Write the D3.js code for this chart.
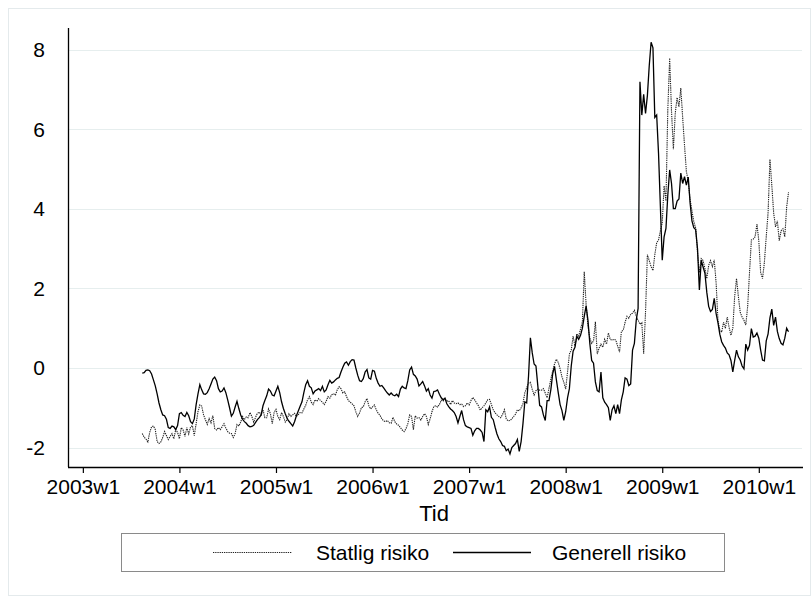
<!DOCTYPE html>
<html>
<head>
<meta charset="utf-8">
<script src="https://cdn.jsdelivr.net/npm/d3@7"></script>
<style>
  html, body { margin: 0; padding: 0; background: #fff; }
  svg text { font-family: "Liberation Sans", Arial, sans-serif; fill: #000; }
</style>
</head>
<body>
<svg id="chart" width="811" height="596"></svg>
<script>
// Weekly series, first observation 2003w33, one value per week through 2010w17
const firstYear = 2003;
const firstWeek = 33;

const statlig = [
  -1.65,-1.74,-1.79,-1.86,-1.62,-1.48,-1.46,-1.55,-1.85,-1.90,
  -1.86,-1.75,-1.60,-1.70,-1.80,-1.72,-1.65,-1.78,-1.55,-1.62,
  -1.78,-1.50,-1.56,-1.72,-1.50,-1.66,-1.48,-1.45,-1.70,-1.40,
  -1.10,-0.93,-0.96,-1.18,-1.30,-1.42,-1.27,-1.38,-1.20,-1.52,
  -1.56,-1.50,-1.55,-1.48,-1.40,-1.51,-1.60,-1.64,-1.65,-1.75,
  -1.65,-1.42,-1.46,-1.36,-1.22,-1.30,-1.23,-1.25,-1.12,-1.22,
  -1.36,-1.24,-1.14,-1.11,-1.18,-1.05,-1.25,-1.25,-1.03,-1.15,
  -1.40,-1.12,-1.04,-1.22,-1.30,-1.12,-1.22,-1.36,-1.30,-1.15,
  -1.22,-1.18,-1.14,-1.22,-1.17,-1.12,-1.13,-1.03,-0.94,-0.80,
  -0.72,-0.86,-0.92,-0.80,-0.84,-0.77,-0.82,-0.86,-0.92,-0.84,
  -0.72,-0.76,-0.67,-0.65,-0.68,-0.55,-0.47,-0.52,-0.63,-0.60,
  -0.72,-0.82,-0.86,-0.90,-0.95,-1.10,-1.22,-1.13,-1.00,-0.98,
  -0.85,-0.77,-0.95,-1.03,-0.98,-0.93,-1.05,-1.14,-1.19,-1.28,
  -1.33,-1.35,-1.32,-1.38,-1.39,-1.24,-1.35,-1.41,-1.44,-1.50,
  -1.56,-1.60,-1.53,-1.40,-1.18,-1.22,-1.55,-1.20,-1.26,-1.25,
  -1.31,-1.22,-1.15,-1.22,-1.42,-1.28,-1.10,-0.97,-0.95,-0.98,
  -0.92,-0.81,-0.83,-0.77,-0.84,-0.82,-0.92,-0.82,-0.88,-0.90,
  -0.88,-0.92,-0.91,-0.97,-0.95,-0.88,-0.93,-0.82,-0.74,-0.80,
  -0.88,-0.95,-1.06,-1.00,-0.95,-0.88,-0.80,-0.79,-0.92,-1.05,
  -1.13,-1.18,-1.22,-1.25,-1.17,-1.05,-1.28,-1.33,-1.32,-1.28,
  -1.22,-1.16,-1.05,-1.08,-1.00,-0.90,-0.62,-0.50,-0.38,-0.36,
  -0.54,-0.68,-0.57,-0.53,-0.56,-0.56,-0.52,-0.63,-0.75,-0.52,
  -0.28,-0.08,0.10,0.22,0.14,-0.02,-0.22,-0.36,-0.53,-0.10,
  0.35,0.45,0.80,0.55,0.86,0.80,0.98,1.16,2.42,1.60,
  1.05,0.75,0.62,0.68,1.16,0.35,0.50,0.60,0.52,0.72,
  0.60,0.88,0.72,0.70,0.72,0.70,0.55,0.40,0.92,0.95,
  1.15,1.30,1.25,1.35,1.38,1.45,1.30,1.20,1.10,1.14,
  0.36,1.40,2.85,2.70,2.55,2.45,2.85,3.15,3.22,3.45,
  3.65,4.58,4.20,6.50,7.79,6.45,5.50,6.40,6.80,6.57,
  7.04,6.30,5.60,4.94,4.70,4.25,3.95,3.68,3.52,2.90,
  2.40,2.75,2.70,2.50,2.25,2.58,2.70,2.55,2.72,2.15,
  1.20,0.95,0.90,1.15,1.00,1.28,1.02,0.82,1.00,1.80,
  2.25,1.80,1.40,1.28,1.20,1.08,1.55,2.40,3.22,3.24,
  3.30,3.62,3.20,2.40,2.25,2.65,3.30,3.90,5.25,4.60,
  3.90,3.55,3.70,3.20,3.45,3.50,3.30,4.05,4.42
];

const generell = [
  -0.13,-0.12,-0.06,-0.05,-0.07,-0.15,-0.30,-0.45,-0.65,-0.88,
  -1.05,-1.18,-1.20,-1.29,-1.50,-1.52,-1.46,-1.48,-1.55,-1.45,
  -1.15,-1.12,-1.19,-1.22,-1.12,-1.20,-1.35,-1.40,-1.28,-0.92,
  -0.65,-0.42,-0.55,-0.65,-0.66,-0.62,-0.52,-0.40,-0.28,-0.23,
  -0.32,-0.52,-0.60,-0.58,-0.50,-0.62,-0.80,-1.00,-1.21,-1.14,
  -0.98,-0.84,-1.02,-1.18,-1.29,-1.35,-1.39,-1.45,-1.48,-1.47,
  -1.44,-1.37,-1.30,-1.25,-1.18,-0.95,-0.82,-0.70,-0.53,-0.58,
  -0.68,-0.70,-0.58,-0.46,-0.62,-0.85,-1.02,-1.15,-1.27,-1.34,
  -1.40,-1.46,-1.35,-1.20,-1.08,-0.96,-0.85,-0.62,-0.42,-0.32,
  -0.46,-0.50,-0.65,-0.58,-0.55,-0.52,-0.57,-0.46,-0.60,-0.55,
  -0.42,-0.31,-0.38,-0.35,-0.30,-0.26,-0.24,-0.10,0.02,0.12,
  0.15,0.07,0.16,0.21,0.20,0.00,-0.18,-0.32,-0.34,-0.27,
  -0.10,-0.04,-0.25,-0.28,-0.06,-0.08,-0.26,-0.38,-0.46,-0.44,
  -0.50,-0.57,-0.63,-0.68,-0.63,-0.68,-0.70,-0.66,-0.72,-0.53,
  -0.46,-0.50,-0.52,-0.32,-0.05,0.02,-0.16,-0.20,-0.28,-0.45,
  -0.40,-0.34,-0.45,-0.58,-0.52,-0.68,-0.76,-0.59,-0.58,-0.55,
  -0.66,-0.75,-0.80,-0.76,-0.90,-0.97,-1.03,-1.07,-1.12,-1.22,
  -1.38,-1.22,-1.07,-1.30,-1.45,-1.48,-1.50,-1.52,-1.69,-1.58,
  -1.52,-1.52,-1.56,-1.62,-1.85,-1.05,-1.10,-0.98,-1.24,-1.30,
  -1.49,-1.66,-1.78,-1.85,-1.95,-1.97,-2.08,-2.04,-2.16,-2.00,
  -1.95,-1.90,-1.80,-2.10,-1.85,-1.40,-0.85,-0.88,-0.20,0.76,
  0.38,0.10,0.05,-0.45,-0.94,-0.98,-1.18,-1.32,-0.82,-0.82,
  -0.55,-0.15,0.04,-0.30,-0.62,-0.92,-1.07,-1.32,-1.10,-0.75,
  -0.52,0.05,0.42,0.52,0.80,0.72,0.82,1.00,1.30,1.56,
  1.20,0.62,0.19,0.12,-0.35,-0.57,-0.60,-0.10,-0.75,-0.86,
  -0.92,-1.00,-1.32,-1.05,-0.95,-1.15,-0.92,-1.15,-0.80,-0.60,
  -0.25,-0.28,-0.44,-0.40,0.45,0.62,1.20,1.50,7.20,6.36,
  6.88,6.40,6.85,7.60,8.19,8.05,6.30,6.36,5.40,4.06,
  2.71,3.30,3.51,4.35,4.98,4.64,4.01,4.01,4.20,4.25,
  4.90,4.64,4.81,4.60,4.80,4.15,3.70,3.53,3.48,3.00,
  1.96,2.71,2.54,2.38,1.90,1.55,1.42,1.47,1.75,1.37,
  1.14,0.85,0.66,0.57,0.50,0.38,0.33,0.19,-0.10,0.19,
  0.45,0.28,0.20,0.05,-0.02,0.60,0.45,0.57,0.99,0.78,
  0.80,0.88,0.75,0.45,0.20,0.18,0.68,0.86,1.26,1.48,
  1.07,1.28,0.92,0.74,0.62,0.58,0.75,1.00,0.91
];

const xTickLabels = ["2003w1","2004w1","2005w1","2006w1","2007w1","2008w1","2009w1","2010w1"];
const yTicks = [-2, 0, 2, 4, 6, 8];
const seriesNames = ["Statlig risiko", "Generell risiko"];
const xTitle = "Tid";

// Stata-style weekly index: 52 weeks per year
const weekIndex = (y, w) => y * 52 + (w - 1);
const parseWeek = s => { const [y, w] = s.split("w").map(Number); return weekIndex(y, w); };
const fmtWeek = t => `${Math.floor(t / 52)}w${(t % 52) + 1}`;
const start = weekIndex(firstYear, firstWeek);
const weeks = statlig.map((_, i) => start + i);

const svg = d3.select("#chart");
const W = 811, H = 596;
const plot = { left: 68, right: 803, top: 28, bottom: 467 };
const FONT = "Liberation Sans, Arial, sans-serif";
const DOT = "1.3,0.9";

svg.append("rect").attr("x", 0).attr("y", 0).attr("width", W).attr("height", H).attr("fill", "#fff");
svg.append("rect").attr("x", 8.5).attr("y", 8.5).attr("width", W - 9).attr("height", H - 9)
  .attr("fill", "none").attr("stroke", "#e4eaec").attr("stroke-width", 1);

const x = d3.scaleLinear()
  .domain([parseWeek("2003w1") - 8, parseWeek("2010w1") + 23.8])
  .range([plot.left, plot.right]);
const y = d3.scaleLinear()
  .domain([-2.49, 8.55])
  .range([plot.bottom, plot.top]);

// horizontal grid
svg.append("g").selectAll("line").data(yTicks).join("line")
  .attr("x1", plot.left + 1).attr("x2", plot.right - 1)
  .attr("y1", d => Math.round(y(d)) + 0.5).attr("y2", d => Math.round(y(d)) + 0.5)
  .attr("stroke", "#e6eeee").attr("stroke-width", 1.2);

// axes
const xAxis = d3.axisBottom(x)
  .tickValues(xTickLabels.map(parseWeek))
  .tickFormat(fmtWeek)
  .tickSize(6).tickPadding(6);
const gx = svg.append("g").attr("transform", `translate(0,${plot.bottom})`).call(xAxis);
gx.select(".domain").attr("d", `M${plot.left},0.5H${plot.right}`).attr("stroke", "#000").attr("stroke-width", 1.3);
gx.selectAll(".tick line").attr("stroke", "#000").attr("stroke-width", 1.2);
gx.selectAll(".tick text").attr("font-size", 21).attr("font-family", FONT).attr("fill", "#000");

const yAxis = d3.axisLeft(y).tickValues(yTicks).tickFormat(d => String(d)).tickSize(0).tickPadding(23);
const gy = svg.append("g").attr("transform", `translate(${plot.left},0)`).call(yAxis);
gy.select(".domain").attr("d", `M0.5,${plot.top}V${plot.bottom}`).attr("stroke", "#000").attr("stroke-width", 1.3);
gy.selectAll(".tick text").attr("font-size", 21).attr("font-family", FONT).attr("fill", "#000");

// axis title
svg.append("text").attr("x", 434).attr("y", 521).attr("text-anchor", "middle")
  .attr("font-size", 22).text(xTitle);

// series lines
const line = vals => d3.line().x((d, i) => x(weeks[i])).y(d => y(d))(vals);
svg.append("path").attr("d", line(statlig)).attr("fill", "none")
  .attr("stroke", "#222").attr("stroke-width", 1.1).attr("stroke-dasharray", DOT);
svg.append("path").attr("d", line(generell)).attr("fill", "none")
  .attr("stroke", "#000").attr("stroke-width", 1.3).attr("stroke-linejoin", "miter");

// legend
const lg = svg.append("g");
lg.append("rect").attr("x", 121.5).attr("y", 533.5).attr("width", 603).attr("height", 38)
  .attr("fill", "#fff").attr("stroke", "#8a8a8a").attr("stroke-width", 1);
const legendItems = [
  { name: seriesNames[0], x0: 213, x1: 292, tx: 316, dash: DOT, color: "#222", w: 1.1 },
  { name: seriesNames[1], x0: 453, x1: 531, tx: 552, dash: null, color: "#000", w: 1.3 }
];
legendItems.forEach(it => {
  lg.append("line").attr("x1", it.x0).attr("x2", it.x1).attr("y1", 552.5).attr("y2", 552.5)
    .attr("stroke", it.color).attr("stroke-width", it.w).attr("stroke-dasharray", it.dash);
  lg.append("text").attr("x", it.tx).attr("y", 560).attr("font-size", 21).text(it.name);
});
</script>
</body>
</html>
